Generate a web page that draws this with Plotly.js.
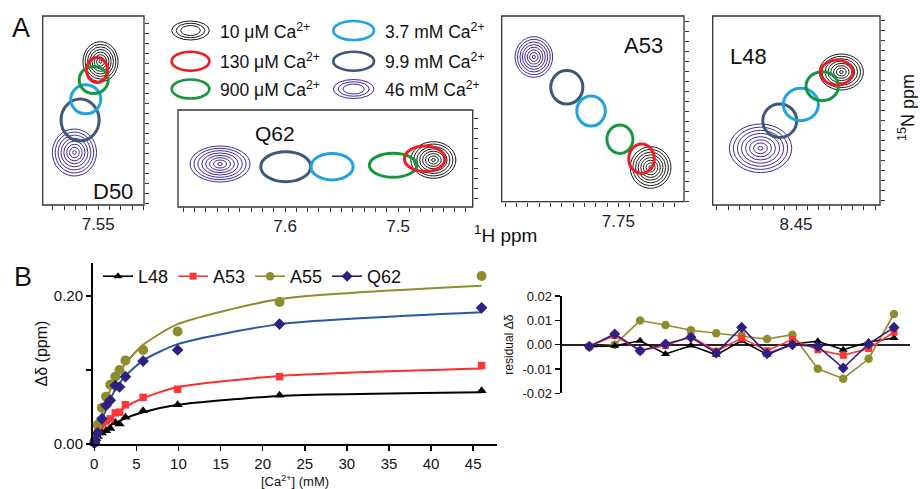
<!DOCTYPE html>
<html><head><meta charset="utf-8">
<script src="https://cdn.plot.ly/plotly-3.0.1.min.js"></script>
<style>html,body{margin:0;padding:0;background:#fff}#chart{width:920px;height:489px}</style>
</head><body><div id="chart"></div>
<script>
// ================= DATA =================
// Panel A: 1H-15N peak positions for each Ca2+ concentration
const caLabels = ['10 μM Ca<sup>2+</sup>', '130 μM Ca<sup>2+</sup>', '900 μM Ca<sup>2+</sup>',
                  '3.7 mM Ca<sup>2+</sup>', '9.9 mM Ca<sup>2+</sup>', '46 mM Ca<sup>2+</sup>'];
// order: 10 uM, 130 uM, 900 uM, 3.7 mM, 9.9 mM, 46 mM
const d50H = [7.548, 7.551, 7.554, 7.561, 7.566, 7.571];
const d50N = [118.387, 118.470, 118.570, 118.763, 118.970, 119.295];
const d50HW = [0.0155, 0.0093, 0.0128, 0.0133, 0.0168, 0.0195];
const d50NW = [0.200, 0.125, 0.135, 0.145, 0.210, 0.235];

const q62H = [7.4688, 7.4764, 7.5044, 7.5584, 7.5994, 7.6575];
const q62N = [120.417, 120.405, 120.470, 120.484, 120.484, 120.457];
const q62HW = [0.0199, 0.0180, 0.0210, 0.0186, 0.0221, 0.0265];
const q62NW = [0.183, 0.128, 0.120, 0.133, 0.150, 0.180];

const a53H = [7.7215, 7.7295, 7.7486, 7.7741, 7.7955, 7.8246];
const a53N = [122.458, 122.370, 122.175, 121.893, 121.656, 121.353];
const a53HW = [0.0180, 0.0113, 0.0115, 0.0126, 0.0142, 0.0166];
const a53NW = [0.208, 0.147, 0.142, 0.150, 0.167, 0.203];

const l48H = [8.4099, 8.4140, 8.4268, 8.4457, 8.4644, 8.4814];
const l48N = [119.513, 119.518, 119.655, 119.838, 120.000, 120.276];
const l48HW = [0.0195, 0.0142, 0.0143, 0.0155, 0.0150, 0.0276];
const l48NW = [0.180, 0.125, 0.145, 0.162, 0.167, 0.243];

// Panel A tick labels
const d50TickVals = [7.55], d50TickText = ['7.55'];
const q62TickVals = [7.6, 7.5], q62TickText = ['7.6', '7.5'];
const a53TickVals = [7.75], a53TickText = ['7.75'];
const l48TickVals = [8.45], l48TickText = ['8.45'];

// Panel B: titration curves
const conc = [0.01, 0.13, 0.4, 0.9, 1.4, 1.9, 2.5, 3.0, 3.7, 5.8, 9.9, 22, 46];
const L48 = [0.001, 0.004, 0.010, 0.015, 0.018, 0.021, 0.029, 0.027, 0.036, 0.045, 0.053, 0.066, 0.072];
const A53 = [0.002, 0.008, 0.020, 0.028, 0.031, 0.034, 0.042, 0.043, 0.053, 0.063, 0.074, 0.091, 0.106];
const A55 = [0.002, 0.006, 0.026, 0.049, 0.064, 0.080, 0.091, 0.100, 0.113, 0.127, 0.152, 0.192, 0.227];
const Q62 = [0.001, 0.005, 0.015, 0.034, 0.052, 0.059, 0.079, 0.077, 0.091, 0.112, 0.127, 0.162, 0.184];
// fitted curves
const L48fit = [0.0002, 0.002, 0.0075, 0.015, 0.020, 0.025, 0.0285, 0.031, 0.035, 0.043, 0.053, 0.065, 0.070];
const A53fit = [0.0005, 0.003, 0.010, 0.020, 0.028, 0.034, 0.040, 0.044, 0.050, 0.062, 0.077, 0.092, 0.102];
const A55fit = [0.001, 0.006, 0.018, 0.040, 0.058, 0.073, 0.087, 0.097, 0.109, 0.134, 0.162, 0.196, 0.214];
const Q62fit = [0.001, 0.005, 0.014, 0.031, 0.047, 0.060, 0.074, 0.082, 0.092, 0.113, 0.135, 0.162, 0.178];
const concTicks = [0, 5, 10, 15, 20, 25, 30, 35, 40, 45];
const ddTickVals = [0, 0.2], ddTickText = ['0.00', '0.20'], ddMinorTicks = [0.1];

// Panel B: residuals (point index 1..13)
const resIdx = [1, 2, 3, 4, 5, 6, 7, 8, 9, 10, 11, 12, 13];
const L48res = [-0.0007, -0.0005, 0.0016, -0.0038, -0.0004, -0.0042, 0.0016, -0.0041, 0.0003, 0.0014, -0.0021, 0.0011, 0.0027];
const A53res = [-0.0007, 0.0037, -0.0025, -0.0003, 0.0034, -0.0027, 0.0027, -0.0025, 0.0021, -0.0021, -0.0044, -0.0016, 0.0051];
const A55res = [-0.0010, 0.0000, 0.0099, 0.0081, 0.0059, 0.0047, 0.0038, 0.0023, 0.0041, -0.0099, -0.0140, -0.0058, 0.0126];
const Q62res = [-0.0007, 0.0044, -0.0025, 0.0003, 0.0030, -0.0034, 0.0071, -0.0037, 0.0000, -0.0007, -0.0096, 0.0003, 0.0071];
const resTickVals = [-0.02, -0.01, 0, 0.01, 0.02];
const resTickText = ['-0.02', '-0.01', '0.00', '0.01', '0.02'];

// ================= STYLE / LAYOUT =================
const W = 920, H = 489;
const px = x => x / W, py = y => 1 - y / H;
const FONT = 'Liberation Sans, Arial, Helvetica, sans-serif';
const peakStyle = [
  {color: '#1a1a1a', width: 1, rings: true},
  {color: '#ee1c25', width: 3},
  {color: '#15973d', width: 3},
  {color: '#1fa3e3', width: 3},
  {color: '#3e5878', width: 3},
  {color: '#3a2c9a', width: 1, rings: true}
];
const ringScales = [1, 0.87, 0.74, 0.61, 0.48, 0.35, 0.22, 0.08];
const drawOrder = [0, 5, 4, 3, 2, 1];

function peakShapes(Hs, Ns, hw, nw, xa, ya) {
  const out = [];
  drawOrder.forEach(i => {
    const st = peakStyle[i];
    const scales = st.rings ? ringScales : [1];
    scales.forEach(s => out.push({
      type: 'circle', xref: xa, yref: ya,
      x0: Hs[i] - hw[i] * s, x1: Hs[i] + hw[i] * s,
      y0: Ns[i] - nw[i] * s, y1: Ns[i] + nw[i] * s,
      line: {color: st.color, width: st.width}, layer: 'above'
    }));
  });
  // frame of the spectrum panel
  out.push({type: 'rect', xref: xa + ' domain', yref: ya + ' domain', x0: 0, x1: 1, y0: 0, y1: 1,
    line: {color: '#333', width: 1.3}, layer: 'above'});
  return out;
}

function hAxis(domain, range, tv, tt, anchor) {
  return {domain, range, anchor, tickmode: 'array', tickvals: tv, ticktext: tt,
    ticks: 'outside', ticklen: 4, tickwidth: 1, tickcolor: '#333',
    minor: {dtick: 0.01, tick0: 0, ticks: 'outside', ticklen: 4, tickwidth: 1, tickcolor: '#333', showgrid: false},
    showline: false, showgrid: false, zeroline: false,
    tickfont: {size: 17, color: '#222', family: FONT}, fixedrange: true};
}
function nAxis(domain, range, anchor) {
  return {domain, range, anchor, side: 'right', dtick: 0.1, tick0: 0,
    ticks: 'outside', ticklen: 4, tickwidth: 1, tickcolor: '#333', showticklabels: false,
    showline: false, showgrid: false, zeroline: false, fixedrange: true};
}

const traces = [];
// invisible anchors for the spectrum subplots
[[d50H, d50N, 'x', 'y'], [q62H, q62N, 'x2', 'y2'], [a53H, a53N, 'x3', 'y3'], [l48H, l48N, 'x4', 'y4']]
  .forEach(([hx, ny, xa, ya]) => traces.push({type: 'scatter', mode: 'markers', x: hx, y: ny,
    xaxis: xa, yaxis: ya, marker: {size: 2, color: 'rgba(0,0,0,0)'}, showlegend: false, hoverinfo: 'skip'}));

const series = [
  {name: 'L48', y: L48, fit: L48fit, res: L48res, color: '#000000', fitColor: '#000000', sym: 'triangle-up', size: 9, rsize: 8, rank: 1},
  {name: 'A53', y: A53, fit: A53fit, res: A53res, color: '#ff3636', fitColor: '#ff2a2a', sym: 'square', size: 7.5, rsize: 7, rank: 2},
  {name: 'A55', y: A55, fit: A55fit, res: A55res, color: '#8f8c2c', fitColor: '#8f8c2c', sym: 'circle', size: 10, rsize: 8.5, rank: 3},
  {name: 'Q62', y: Q62, fit: Q62fit, res: Q62res, color: '#2e1f80', fitColor: '#2a56a8', sym: 'diamond', size: 9, rsize: 8.5, rank: 4}
];
series.forEach(s => {
  traces.push({type: 'scatter', mode: 'lines', x: conc, y: s.fit, xaxis: 'x5', yaxis: 'y5',
    line: {color: s.fitColor, width: 2, shape: 'spline', smoothing: 0.6}, showlegend: false, hoverinfo: 'skip'});
});
series.forEach(s => {
  traces.push({type: 'scatter', mode: 'markers', x: conc, y: s.y, xaxis: 'x5', yaxis: 'y5', cliponaxis: false,
    marker: {symbol: s.sym, size: s.size, color: s.color}, showlegend: false, name: s.name});
});
[2, 0, 1, 3].forEach(k => {
  const s = series[k];
  traces.push({type: 'scatter', mode: 'lines+markers', x: resIdx, y: s.res, xaxis: 'x6', yaxis: 'y6',
    name: s.name, legendrank: s.rank, cliponaxis: false,
    line: {color: s.color, width: 1.6}, marker: {symbol: s.sym, size: s.rsize, color: s.color}});
});

// shapes
let shapes = [];
shapes = shapes.concat(peakShapes(d50H, d50N, d50HW, d50NW, 'x', 'y'));
shapes = shapes.concat(peakShapes(q62H, q62N, q62HW, q62NW, 'x2', 'y2'));
shapes = shapes.concat(peakShapes(a53H, a53N, a53HW, a53NW, 'x3', 'y3'));
shapes = shapes.concat(peakShapes(l48H, l48N, l48HW, l48NW, 'x4', 'y4'));

// legend of panel A
const legRows = [30.5, 61.2, 89];
const legCols = [[171.7, 209.3, 218], [333.3, 374, 383]];
const annotations = [];
for (let i = 0; i < 6; i++) {
  const col = legCols[Math.floor(i / 3)], rowY = legRows[i % 3];
  const st = peakStyle[i];
  const scales = st.rings ? [1, 0.76, 0.52] : [1];
  const cx = (col[0] + col[1]) / 2, hx = (col[1] - col[0]) / 2, hy = 9.5;
  scales.forEach(s => shapes.push({type: 'circle', xref: 'paper', yref: 'paper',
    x0: px(cx - hx * s), x1: px(cx + hx * s), y0: py(rowY + hy * s), y1: py(rowY - hy * s),
    line: {color: st.color, width: st.rings ? 1 : 2.6}}));
  annotations.push({xref: 'paper', yref: 'paper', x: px(col[2]), y: py(rowY), xanchor: 'left', yanchor: 'middle',
    text: caLabels[i], showarrow: false, font: {size: 17.5, color: '#111', family: FONT}});
}
const txt = (t, x, y, size, extra) => Object.assign({xref: 'paper', yref: 'paper', x: px(x), y: py(y),
  xanchor: 'center', yanchor: 'middle',
  text: t, showarrow: false, font: {size: size, color: '#111', family: FONT}}, extra || {});
annotations.push(txt('A', 21, 28, 27));
annotations.push(txt('B', 22.5, 277, 27));
annotations.push(txt('D50', 112.5, 192, 22));
annotations.push(txt('Q62', 275, 133, 21));
annotations.push(txt('A53', 643, 45, 22));
annotations.push(txt('L48', 748, 56, 22));
annotations.push(txt('<sup>1</sup>H ppm', 505, 234, 19));
annotations.push(txt('<sup>15</sup>N ppm', 906, 108, 18, {textangle: -90}));

const layout = {
  width: W, height: H, autosize: false,
  margin: {l: 0, r: 0, t: 0, b: 0, pad: 0},
  paper_bgcolor: '#fff', plot_bgcolor: 'rgba(0,0,0,0)',
  font: {family: FONT, color: '#111'},
  showlegend: true,
  legend: {orientation: 'h', x: px(98), y: py(258), xanchor: 'left', yanchor: 'top',
    font: {size: 18, family: FONT, color: '#111'}, bgcolor: 'rgba(0,0,0,0)', traceorder: 'normal',
    itemwidth: 30, tracegroupgap: 0},
  xaxis: hAxis([px(42.7), px(144)], [7.599, 7.5096], d50TickVals, d50TickText, 'y'),
  yaxis: nAxis([py(205), py(16)], [119.82, 117.93], 'x'),
  xaxis2: hAxis([px(178), px(472.7)], [7.6947, 7.434], q62TickVals, q62TickText, 'y2'),
  yaxis2: nAxis([py(207), py(110)], [120.887, 119.917], 'x2'),
  xaxis3: hAxis([px(501.7), px(684)], [7.853, 7.692], a53TickVals, a53TickText, 'y3'),
  yaxis3: nAxis([py(201.7), py(16)], [122.80, 120.943], 'x3'),
  xaxis4: hAxis([px(712.7), px(880)], [8.5237, 8.3757], l48TickVals, l48TickText, 'y4'),
  yaxis4: nAxis([py(205), py(16)], [120.843, 118.953], 'x4'),
  xaxis5: {domain: [px(93), px(497)], range: [-0.15, 47.83], anchor: 'y5',
    tickmode: 'array', tickvals: concTicks, ticks: 'outside', ticklen: 5, tickwidth: 1.5, tickcolor: '#000',
    showline: true, linecolor: '#000', linewidth: 2, showgrid: false, zeroline: false,
    tickfont: {size: 15, color: '#111', family: FONT},
    title: {text: '[Ca<sup>2+</sup>] (mM)', font: {size: 13, family: FONT, color: '#111'}, standoff: 6}, fixedrange: true},
  yaxis5: {domain: [py(444), py(263)], range: [0, 0.2446], anchor: 'x5',
    tickmode: 'array', tickvals: ddTickVals, ticktext: ddTickText, ticks: 'outside', ticklen: 5, tickwidth: 1.5, tickcolor: '#000',
    minor: {tickmode: 'array', tickvals: ddMinorTicks, ticks: 'outside', ticklen: 5, tickwidth: 1.5, tickcolor: '#000', showgrid: false},
    showline: true, linecolor: '#000', linewidth: 2, showgrid: false, zeroline: false,
    tickfont: {size: 15, color: '#111', family: FONT},
    title: {text: 'Δδ (ppm)', font: {size: 16, family: FONT, color: '#111'}, standoff: 2}, fixedrange: true},
  xaxis6: {domain: [px(561.7), px(910)], range: [-0.087, 13.63], anchor: 'y6',
    showline: false, showticklabels: false, ticks: '', showgrid: false, zeroline: false, fixedrange: true},
  yaxis6: {domain: [py(393.3), py(296)], range: [-0.02, 0.02], anchor: 'x6',
    tickmode: 'array', tickvals: resTickVals, ticktext: resTickText, ticks: 'outside', ticklen: 5, tickwidth: 1.5, tickcolor: '#000',
    showline: true, linecolor: '#000', linewidth: 2, showgrid: false,
    zeroline: true, zerolinecolor: '#222', zerolinewidth: 2.2,
    tickfont: {size: 13, color: '#111', family: FONT},
    title: {text: 'residual Δδ', font: {size: 12, family: FONT, color: '#111'}, standoff: 6}, fixedrange: true},
  shapes: shapes,
  annotations: annotations
};

Plotly.newPlot('chart', traces, layout, {staticPlot: true, displayModeBar: false});
</script>
</body></html>
